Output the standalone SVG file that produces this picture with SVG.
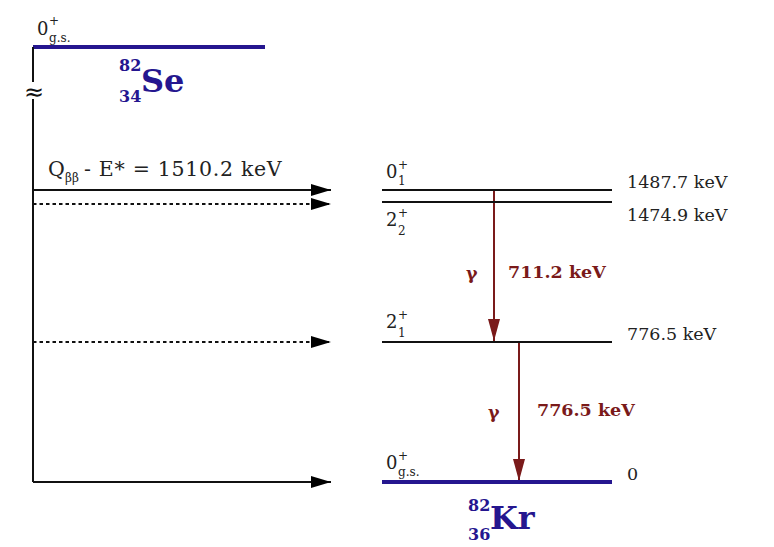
<svg xmlns="http://www.w3.org/2000/svg" width="774" height="547" viewBox="0 0 774 547">
<defs>
<marker id="ah" viewBox="0 0 20 12" refX="20" refY="6" markerWidth="20" markerHeight="12" markerUnits="userSpaceOnUse" orient="auto"><path d="M0,0 L20,6 L0,12 Z" fill="#000"/></marker>
<marker id="rh" viewBox="0 0 12 22" refX="6" refY="22" markerWidth="12" markerHeight="22" markerUnits="userSpaceOnUse" orient="0"><path d="M0,0 L12,0 L6,22 Z" fill="#7a1a1a"/></marker>
</defs>
<style>
text{font-family:'DejaVu Serif',serif;fill:#222}
.lbl{font-size:18px}
.sup{font-size:12px}
.sub{font-size:12px}
.en{font-size:17.5px}
.iso{font-weight:bold;fill:#25168f}
.red{fill:#7a1a1a;font-weight:bold;font-size:17.5px}
.lev{stroke:#111;stroke-width:2}
.gs{stroke:#25168f;stroke-width:4}
.conn{stroke:#111;stroke-width:2;fill:none}
.dot{stroke-dasharray:3.5 3}
.gam{stroke:#7a1a1a;stroke-width:2}
</style>
<rect width="774" height="547" fill="#fff"/>
<g id="se">
<line class="gs" x1="33" y1="47" x2="265" y2="47"/>
<text class="lbl" x="37" y="35">0</text><text class="sup" x="49" y="25">+</text><text class="sub" x="49" y="42">g.s.</text>
<text class="iso" x="119" y="71" font-size="16">82</text>
<text class="iso" x="119" y="102" font-size="16">34</text>
<text class="iso" x="141" y="92" font-size="32">Se</text>
</g>
<g id="connectors">
<path class="conn" d="M33,47 V82 M33,99 V482"/>
<text x="24" y="100" font-size="24" style="font-family:'DejaVu Sans',sans-serif;fill:#111">≈</text>
<line class="conn" x1="33" y1="190" x2="331" y2="190" marker-end="url(#ah)"/>
<line class="conn dot" x1="33" y1="204" x2="331" y2="204" marker-end="url(#ah)"/>
<line class="conn dot" x1="33" y1="342" x2="331" y2="342" marker-end="url(#ah)"/>
<line class="conn" x1="33" y1="482" x2="331" y2="482" marker-end="url(#ah)"/>
<line class="gam" x1="494" y1="190" x2="494" y2="341" marker-end="url(#rh)"/>
<line class="gam" x1="519" y1="342" x2="519" y2="481" marker-end="url(#rh)"/>
</g>
<g id="qlabel">
<text x="48" y="176" font-size="20.5">Q</text><text x="65" y="182" font-size="12">ββ</text><text x="84" y="176" font-size="20.5" letter-spacing="0.7">- E* = 1510.2 keV</text>
</g>
<g id="level-01">
<line class="lev" x1="382" y1="190" x2="612" y2="190"/>
<text class="lbl" x="386" y="178">0</text><text class="sup" x="398" y="169">+</text><text class="sub" x="398" y="185">1</text>
<text class="en" x="627" y="188">1487.7 keV</text>
</g>
<g id="level-22">
<line class="lev" x1="382" y1="202" x2="612" y2="202" stroke-width="1.5"/>
<text class="lbl" x="386" y="226">2</text><text class="sup" x="398" y="217">+</text><text class="sub" x="398" y="235">2</text>
<text class="en" x="627" y="221">1474.9 keV</text>
</g>
<g id="level-21">
<line class="lev" x1="382" y1="342" x2="612" y2="342"/>
<text class="lbl" x="386" y="328">2</text><text class="sup" x="398" y="319">+</text><text class="sub" x="398" y="337">1</text>
<text class="en" x="627" y="340">776.5 keV</text>
</g>
<g id="level-gs">
<line class="gs" x1="382" y1="482" x2="612" y2="482"/>
<text class="lbl" x="386" y="469">0</text><text class="sup" x="398" y="460">+</text><text class="sub" x="398" y="476">g.s.</text>
<text class="en" x="627" y="480">0</text>
</g>
<g id="kr">
<text class="iso" x="468" y="511" font-size="16">82</text>
<text class="iso" x="468" y="540" font-size="16">36</text>
<text class="iso" x="490" y="529" font-size="32">Kr</text>
</g>
<g id="gamma1">
<text class="red" x="466" y="279">γ</text>
<text class="red" x="508" y="278">711.2 keV</text>
</g>
<g id="gamma2">
<text class="red" x="488" y="418">γ</text>
<text class="red" x="537" y="416">776.5 keV</text>
</g>
</svg>
